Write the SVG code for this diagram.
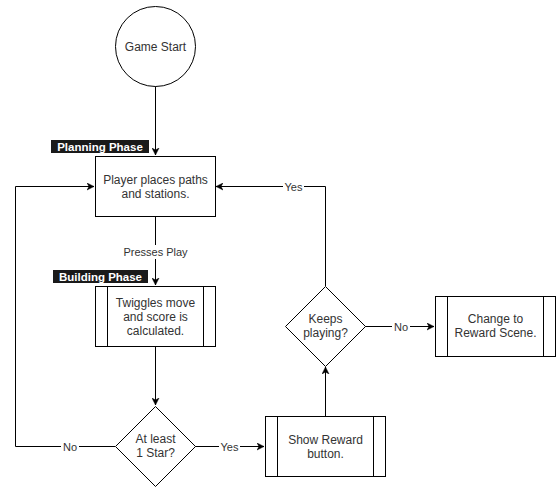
<svg xmlns="http://www.w3.org/2000/svg" width="558" height="488" viewBox="0 0 558 488">
<style>
.n{fill:#fff;stroke:#000;stroke-width:1}
.t{font-family:"Liberation Sans",Arial,sans-serif;font-size:12px;fill:#333;text-anchor:middle}
.e{fill:none;stroke:#000;stroke-width:1}
.lb{font-family:"Liberation Sans",Arial,sans-serif;font-size:11px;fill:#333;text-anchor:middle}
.ph{font-family:"Liberation Sans",Arial,sans-serif;font-size:11.5px;font-weight:bold;fill:#fff;text-anchor:middle}
</style>
<defs>
<marker id="a" markerWidth="8" markerHeight="8" refX="7" refY="4" orient="auto" markerUnits="userSpaceOnUse">
<path d="M0,0.5 L7,4 L0,7.5 L2,4 Z" fill="#000" stroke="#000" stroke-width="0.5"/>
</marker>
</defs>
<rect width="558" height="488" fill="#fff"/>
<g id="edges">
<path class="e" d="M155.5,86 V155" marker-end="url(#a)"/>
<path class="e" d="M155.5,216 V285" marker-end="url(#a)"/>
<path class="e" d="M155.5,346 V405" marker-end="url(#a)"/>
<path class="e" d="M115,446.5 H15.5 V186.5 H94" marker-end="url(#a)"/>
<path class="e" d="M195,446.5 H264" marker-end="url(#a)"/>
<path class="e" d="M325.5,416 V367" marker-end="url(#a)"/>
<path class="e" d="M325.5,286 V186.5 H216" marker-end="url(#a)"/>
<path class="e" d="M365,326.5 H434" marker-end="url(#a)"/>
<rect x="121" y="245" width="68" height="14" fill="#fff"/>
<text class="lb" x="155.5" y="256">Presses Play</text>
<rect x="283" y="181" width="21" height="12" fill="#fff"/>
<text class="lb" x="293.5" y="190.5">Yes</text>
<rect x="61" y="440" width="18" height="12" fill="#fff"/>
<text class="lb" x="70" y="450.5">No</text>
<rect x="219" y="441" width="21" height="12" fill="#fff"/>
<text class="lb" x="229.5" y="450.5">Yes</text>
<rect x="392" y="320" width="18" height="12" fill="#fff"/>
<text class="lb" x="401" y="330.5">No</text>
</g>
<g id="start">
<circle class="n" cx="155.5" cy="46.5" r="40"/>
<text class="t" x="155.5" y="50.5">Game Start</text>
</g>
<g id="planning-label">
<rect x="51" y="140" width="98" height="13" fill="#1a1a1a"/>
<text class="ph" x="100" y="150.5">Planning Phase</text>
</g>
<g id="player-places">
<rect class="n" x="95.5" y="156.5" width="120" height="60"/>
<text class="t" x="155.5" y="184">Player places paths</text>
<text class="t" x="155.5" y="198">and stations.</text>
</g>
<g id="building-label">
<rect x="53" y="270" width="95" height="13" fill="#1a1a1a"/>
<text class="ph" x="100.5" y="280.5">Building Phase</text>
</g>
<g id="twiggles">
<rect class="n" x="95.5" y="286.5" width="120" height="60"/>
<path class="e" d="M107.5,286.5 V346.5 M203.5,286.5 V346.5"/>
<text class="t" x="155.5" y="307">Twiggles move</text>
<text class="t" x="155.5" y="321">and score is</text>
<text class="t" x="155.5" y="335">calculated.</text>
</g>
<g id="at-least">
<path class="n" d="M155.5,406.5 L195.5,446.5 L155.5,486.5 L115.5,446.5 Z"/>
<text class="t" x="155.5" y="443">At least</text>
<text class="t" x="155.5" y="457">1 Star?</text>
</g>
<g id="show-reward">
<rect class="n" x="265.5" y="416.5" width="120" height="60"/>
<path class="e" d="M277.5,416.5 V476.5 M373.5,416.5 V476.5"/>
<text class="t" x="325.5" y="444">Show Reward</text>
<text class="t" x="325.5" y="458">button.</text>
</g>
<g id="keeps-playing">
<path class="n" d="M325.5,286.5 L365.5,326.5 L325.5,366.5 L285.5,326.5 Z"/>
<text class="t" x="325.5" y="323">Keeps</text>
<text class="t" x="325.5" y="337">playing?</text>
</g>
<g id="change-scene">
<rect class="n" x="435.5" y="296.5" width="120" height="60"/>
<path class="e" d="M447.5,296.5 V356.5 M543.5,296.5 V356.5"/>
<text class="t" x="495.5" y="323">Change to</text>
<text class="t" x="495.5" y="337">Reward Scene.</text>
</g>
</svg>
